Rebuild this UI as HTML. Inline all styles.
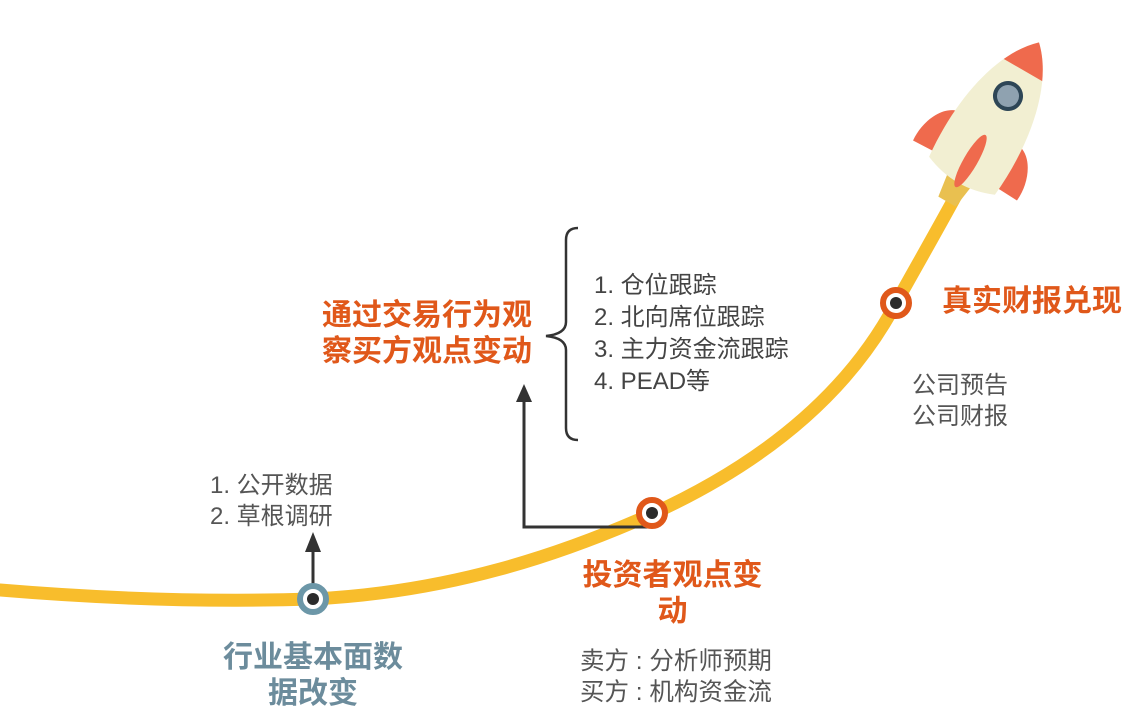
<!DOCTYPE html>
<html><head><meta charset="utf-8"><style>
html,body{margin:0;padding:0;background:#fff}
body{width:1137px;height:717px;position:relative;overflow:hidden;font-family:"Liberation Sans","Noto Sans CJK SC",sans-serif}
.t{position:absolute;white-space:nowrap}
.or{color:#e0581a;font-weight:bold;font-size:30px;line-height:36px}
.gr{color:#555;font-size:24px;line-height:31px}
</style></head><body>
<svg width="1137" height="717" style="position:absolute;left:0;top:0">
<defs><clipPath id="bc"><path d="M-38,62 C-44,0 -32,-62 0,-92 C32,-62 44,0 38,62 Q0,78 -38,62Z"/></clipPath></defs>
<path d="M0,590 C120,600 220,602 313,599 C450,592 560,555 652,514 C770,460 850,390 896,303 C920,260 940,225 960,188" fill="none" stroke="#f8bd2c" stroke-width="13" stroke-linecap="round"/>
<g transform="translate(993,122) rotate(30)">
<path d="M-14,64 L14,64 L10,92 L-10,92Z" fill="#e9c050"/>
<path d="M-36,8 C-52,12 -62,35 -60,56 L-36,55Z" fill="#ef6a4d"/>
<path d="M36,8 C52,12 62,35 60,56 L36,55Z" fill="#ef6a4d"/>
<path d="M-38,62 C-44,0 -32,-62 0,-92 C32,-62 44,0 38,62 Q0,78 -38,62Z" fill="#f2efd2"/>
<rect x="-50" y="-105" width="100" height="45" fill="#ef6a4d" clip-path="url(#bc)"/>
<circle cx="0" cy="-30" r="13" fill="#8fa2b0" stroke="#2e4656" stroke-width="4"/>
<ellipse cx="0" cy="45" rx="7" ry="30" fill="#ef6a4d"/>
</g>
<path d="M578,228 Q566,228 566,240 L566,322 Q566,334 546,336 Q566,338 566,350 L566,428 Q566,440 578,440" fill="none" stroke="#333" stroke-width="2.5"/>
<path d="M652,527 L524,527 L524,398" fill="none" stroke="#333" stroke-width="3"/>
<path d="M516,402 L524,384 L532,402Z" fill="#333"/>
<path d="M313,594 L313,548" stroke="#333" stroke-width="3"/>
<path d="M305,552 L313,532 L321,552Z" fill="#333"/>
<circle cx="313" cy="599" r="13" fill="#fff" stroke="#6c97a8" stroke-width="6"/>
<circle cx="313" cy="599" r="6" fill="#2b2b2b"/>
<circle cx="652" cy="513" r="13" fill="#fff" stroke="#e0581a" stroke-width="6"/>
<circle cx="652" cy="513" r="6" fill="#2b2b2b"/>
<circle cx="896" cy="303" r="13" fill="#fff" stroke="#e0581a" stroke-width="6"/>
<circle cx="896" cy="303" r="6" fill="#2b2b2b"/>
</svg>
<div class="t gr" style="left:210px;top:470px">1. 公开数据<br>2. 草根调研</div>
<div class="t or" style="left:208px;top:640px;color:#6c8c9c;text-align:center;width:210px">行业基本面数<br>据改变</div>
<div class="t or" style="left:322px;top:298px">通过交易行为观<br>察买方观点变动</div>
<div class="t gr" style="left:594px;top:270px;font-size:24px;line-height:32px;color:#444">1. 仓位跟踪<br>2. 北向席位跟踪<br>3. 主力资金流跟踪<br>4. PEAD等</div>
<div class="t or" style="left:570px;top:558px;width:205px;text-align:center">投资者观点变<br>动</div>
<div class="t gr" style="left:580px;top:646px;font-size:24.5px">卖方 : 分析师预期<br>买方 : 机构资金流</div>
<div class="t or" style="left:942px;top:284px">真实财报兑现</div>
<div class="t gr" style="left:912px;top:370px">公司预告<br>公司财报</div>
</body></html>
